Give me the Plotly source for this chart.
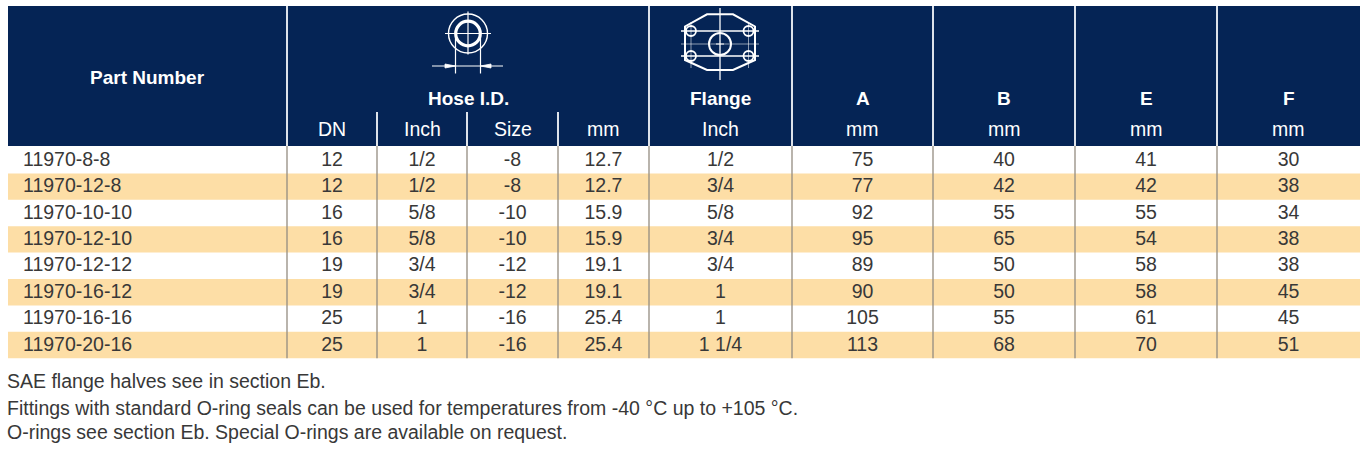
import plotly.graph_objects as go

## table data
part_numbers = ["11970-8-8", "11970-12-8", "11970-10-10", "11970-12-10",
                "11970-12-12", "11970-16-12", "11970-16-16", "11970-20-16"]
hose_dn = [12, 12, 16, 16, 19, 19, 25, 25]
hose_inch = ["1/2", "1/2", "5/8", "5/8", "3/4", "3/4", "1", "1"]
hose_size = ["-8", "-8", "-10", "-10", "-12", "-12", "-16", "-16"]
hose_mm = [12.7, 12.7, 15.9, 15.9, 19.1, 19.1, 25.4, 25.4]
flange_inch = ["1/2", "3/4", "5/8", "3/4", "3/4", "1", "1", "1 1/4"]
dim_a = [75, 77, 92, 95, 89, 90, 105, 113]
dim_b = [40, 42, 55, 65, 50, 50, 55, 68]
dim_e = [41, 42, 55, 54, 58, 58, 61, 70]
dim_f = [30, 38, 34, 38, 38, 45, 45, 51]

group_labels = ["Hose I.D.", "Flange", "A", "B", "E", "F"]
unit_labels = ["DN", "Inch", "Size", "mm", "Inch", "mm", "mm", "mm", "mm"]
notes = ["SAE flange halves see in section Eb.",
         "Fittings with standard O-ring seals can be used for temperatures from -40 °C up to +105 °C.",
         "O-rings see section Eb. Special O-rings are available on request."]

## layout helpers (pixel space)
W, H = 1367, 463
edges = [8, 287, 377, 467, 558, 649, 792, 933, 1075, 1217, 1360]
head_top, head_bot = 6, 146
row_top, row_h = 147, 26.4
navy = "#052455"
band = "#fddea6"
txt = "#383838"
FONT = "Liberation Sans, Arial, Helvetica, sans-serif"
FS = 19.5

n = len(part_numbers)
row_y = [row_top + (i + 0.5) * row_h + 0.8 for i in range(n)]
centers = [(edges[k] + edges[k + 1]) / 2 for k in range(len(edges) - 1)]

fig = go.Figure()

shapes = []
# striped rows
for i in range(n):
    if i % 2 == 1:
        shapes.append(dict(type="rect", x0=edges[0], x1=edges[-1],
                           y0=row_top + i * row_h, y1=row_top + (i + 1) * row_h,
                           fillcolor=band, line_width=0, layer="below"))
# header block
shapes.append(dict(type="rect", x0=edges[0], x1=edges[-1], y0=head_top, y1=head_bot,
                   fillcolor=navy, line_width=0, layer="below"))
# body separators
for x in edges[1:-1]:
    shapes.append(dict(type="line", x0=x, x1=x, y0=head_bot, y1=row_top + n * row_h,
                       line=dict(color="#948c80", width=1.3), layer="below"))
# header separators
for x in [287, 649, 792, 933, 1075, 1217]:
    shapes.append(dict(type="line", x0=x, x1=x, y0=head_top, y1=head_bot,
                       line=dict(color="#dde2ea", width=2), layer="below"))
for x in [377, 467, 558]:
    shapes.append(dict(type="line", x0=x, x1=x, y0=112, y1=head_bot,
                       line=dict(color="#dde2ea", width=2), layer="below"))


def circ(cx, cy, r, w, color="white"):
    return dict(type="circle", x0=cx - r, x1=cx + r, y0=cy - r, y1=cy + r,
                line=dict(color=color, width=w), layer="below")


def seg(x0, y0, x1, y1, w, color="white"):
    return dict(type="line", x0=x0, y0=y0, x1=x1, y1=y1,
                line=dict(color=color, width=w), layer="below")


# hose icon
hx, hy = 468, 33.5
shapes += [
    circ(hx, hy, 19.5, 1.4),
    circ(hx, hy, 12.3, 3.2),
    seg(hx - 23, hy, hx + 23, hy, 1.2),
    seg(hx, hy - 22, hx, hy + 21, 1.2),
    seg(455.5, 36, 455.5, 73.5, 1.2),
    seg(480.5, 36, 480.5, 73.5, 1.2),
    seg(432, 66, 503, 66, 1.2),
    dict(type="path", path="M 445 64 L 455.5 66 L 445 68 Z", fillcolor="white",
         line=dict(color="white", width=0.8), layer="below"),
    dict(type="path", path="M 491 64 L 480.5 66 L 491 68 Z", fillcolor="white",
         line=dict(color="white", width=0.8), layer="below"),
]

# flange icon
fx, fy = 720, 44
faint = "rgba(255,255,255,0.55)"
shapes += [
    seg(681, fy, 759, fy, 1, faint),
    seg(691, 22, 691, 68, 1, faint),
    seg(748.5, 22, 748.5, 68, 1, faint),
    dict(type="path",
         path="M 707 14.3 L 733 14.3 L 755 26.5 L 755 60 L 733 70 L 707 70 L 685 60 L 685 26.5 Z",
         line=dict(color="white", width=2), layer="below"),
    seg(681, 31, 759, 31, 1.3),
    seg(681, 56, 759, 56, 1.3),
    seg(fx, 8, fx, 80, 1.3),
    circ(fx, fy, 11, 2),
    circ(691, 31, 5, 1.8),
    circ(748.5, 31, 5, 1.8),
    circ(691, 56, 5, 1.8),
    circ(748.5, 56, 5, 1.8),
    seg(fx - 4, fy, fx + 4, fy, 1),
]

# body cells
columns = [hose_dn, hose_inch, hose_size, hose_mm, flange_inch, dim_a, dim_b, dim_e, dim_f]
fig.add_trace(go.Scatter(x=[23] * n, y=row_y, text=part_numbers, mode="text",
                         textposition="middle right",
                         textfont=dict(family=FONT, size=FS, color=txt),
                         hoverinfo="skip", showlegend=False, cliponaxis=False))
for k, vals in enumerate(columns):
    fig.add_trace(go.Scatter(x=[centers[k + 1]] * n, y=row_y, text=[str(v) for v in vals],
                             mode="text", textposition="middle center",
                             textfont=dict(family=FONT, size=FS, color=txt),
                             hoverinfo="skip", showlegend=False, cliponaxis=False))

annotations = []
bold = dict(family=FONT, size=19, color="white", weight="bold")
plain = dict(family=FONT, size=FS, color="white")
annotations.append(dict(x=centers[0], y=77, text="Part Number", showarrow=False,
                        font=bold, xanchor="center", yanchor="middle"))
group_x = [(edges[1] + edges[5]) / 2] + centers[5:]
for gx, lab in zip(group_x, group_labels):
    annotations.append(dict(x=gx, y=98, text=lab, showarrow=False, font=bold,
                            xanchor="center", yanchor="middle"))
for k, lab in enumerate(unit_labels):
    annotations.append(dict(x=centers[k + 1], y=129, text=lab, showarrow=False, font=plain,
                            xanchor="center", yanchor="middle"))
for y, note in zip([380.5, 407.5, 432], notes):
    annotations.append(dict(x=5, y=y, text=note, showarrow=False,
                            font=dict(family=FONT, size=FS, color=txt),
                            xanchor="left", yanchor="middle"))

fig.update_layout(width=W, height=H, margin=dict(l=0, r=0, t=0, b=0),
                  paper_bgcolor="white", plot_bgcolor="white",
                  shapes=shapes, annotations=annotations)
fig.update_xaxes(range=[0, W], visible=False, fixedrange=True)
fig.update_yaxes(range=[H, 0], visible=False, fixedrange=True)

fig.write_html("out.html", config=dict(displayModeBar=False),
               post_script="document.body.style.margin='0';document.body.style.overflow='hidden';")
